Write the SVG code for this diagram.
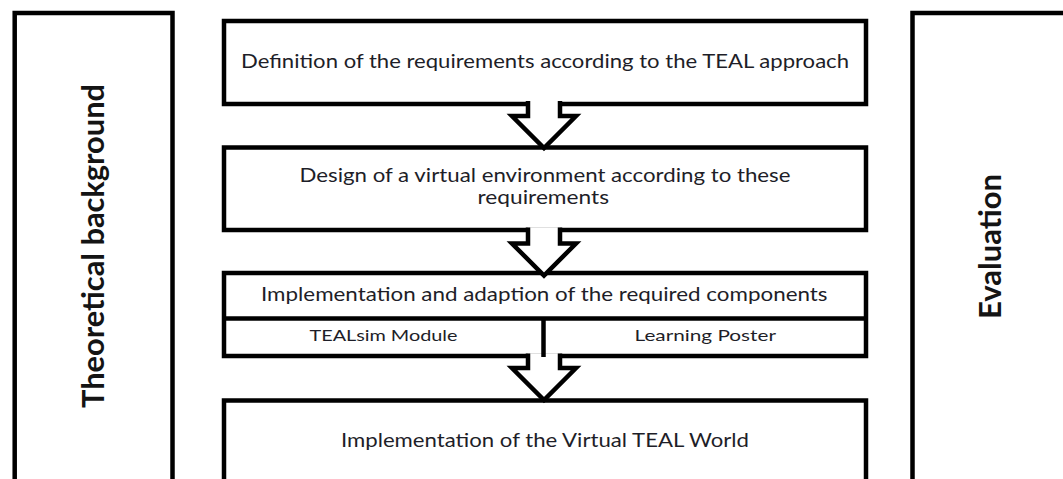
<svg xmlns="http://www.w3.org/2000/svg" width="1063" height="479" viewBox="0 0 1063 479">
  <style>
    .box { fill: #ffffff; stroke: #000000; stroke-width: 4.5; stroke-linejoin: miter; }
    .line { fill: none; stroke: #000000; stroke-width: 4.5; }
    .arrow-fill { fill: #ffffff; stroke: none; }
    .arrow { fill: none; stroke: #000000; stroke-width: 4.5; stroke-linejoin: miter; stroke-miterlimit: 10; }
    .t { font-family: Lato, "Open Sans", "Liberation Sans", sans-serif; font-size: 20px; fill: #1e1e28; }
    .s { font-family: Lato, "Open Sans", "Liberation Sans", sans-serif; font-size: 16px; fill: #1e1e28; }
    .v { font-family: Lato, "Open Sans", "Liberation Sans", sans-serif; font-size: 30px; font-weight: bold; fill: #141414; }
  </style>
  <rect x="0" y="0" width="1063" height="479" fill="#ffffff"/>

  <g id="theoretical-background">
    <rect class="box" x="14.7" y="13" width="157.8" height="500"/>
    <text class="v" transform="translate(103.5,408) rotate(-90)" x="0" y="0" textLength="324" lengthAdjust="spacingAndGlyphs">Theoretical background</text>
  </g>

  <g id="evaluation">
    <rect class="box" x="912.5" y="13" width="200" height="500"/>
    <text class="v" transform="translate(1000.5,319) rotate(-90)" x="0" y="0" textLength="145" lengthAdjust="spacingAndGlyphs">Evaluation</text>
  </g>

  <g id="definition">
    <rect class="box" x="224" y="21" width="642" height="83"/>
    <text class="t" x="241" y="67.5" textLength="608" lengthAdjust="spacingAndGlyphs">Definition of the requirements according to the TEAL approach</text>
  </g>

  <g id="design">
    <rect class="box" x="224" y="147.5" width="642" height="82.5"/>
    <text class="t" x="299.5" y="181.5" textLength="491" lengthAdjust="spacingAndGlyphs">Design of a virtual environment according to these</text>
    <text class="t" x="477.5" y="204" textLength="131.5" lengthAdjust="spacingAndGlyphs">requirements</text>
  </g>

  <g id="implementation-components">
    <rect class="box" x="224" y="273" width="642" height="83"/>
    <line class="line" x1="224" y1="318.5" x2="866" y2="318.5"/>
    <text class="t" x="261" y="300.5" textLength="566.5" lengthAdjust="spacingAndGlyphs">Implementation and adaption of the required components</text>
    <g id="tealsim-module">
      <text class="s" x="309.5" y="340.5" textLength="148" lengthAdjust="spacingAndGlyphs">TEALsim Module</text>
    </g>
    <g id="learning-poster">
      <text class="s" x="634.5" y="340.5" textLength="141.5" lengthAdjust="spacingAndGlyphs">Learning Poster</text>
    </g>
  </g>

  <g id="virtual-teal-world">
    <rect class="box" x="224" y="400.5" width="642" height="100"/>
    <text class="t" x="341" y="447.3" textLength="408" lengthAdjust="spacingAndGlyphs">Implementation of the Virtual TEAL World</text>
  </g>

  <g id="connectors">
    <polygon class="arrow-fill" points="528,101 528,116 512,116 544,148 576,116 560,116 560,101"/>
    <path class="arrow" d="M528,101 V116 H512 L544,148 L576,116 H560 V101"/>

    <polygon class="arrow-fill" points="528,227.5 528,243.5 512,243.5 544,275.5 576,243.5 560,243.5 560,227.5"/>
    <path class="arrow" d="M528,227.5 V243.5 H512 L544,275.5 L576,243.5 H560 V227.5"/>

    <polygon class="arrow-fill" points="528,353.5 528,368 512,368 544,400 576,368 560,368 560,353.5"/>
    <path class="arrow" d="M528,353.5 V368 H512 L544,400 L576,368 H560 V353.5"/>
    <line class="line" x1="543.5" y1="318.5" x2="543.5" y2="357"/>
  </g>
</svg>
